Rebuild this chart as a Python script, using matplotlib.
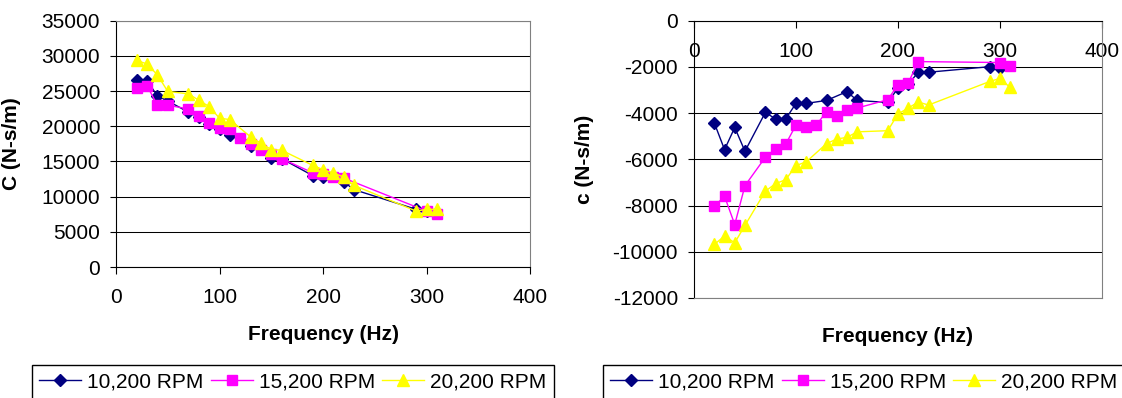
import matplotlib.pyplot as plt

plt.rcParams["font.family"] = ["Liberation Sans", "DejaVu Sans"]
plt.rcParams["axes.unicode_minus"] = False

# Frequency points for each rotor speed
freq_10200 = [20, 30, 40, 50, 70, 80, 90, 100, 110, 130, 150, 160, 190, 200, 210, 220, 230, 290, 300]
freq_15200 = [20, 30, 40, 50, 70, 80, 90, 100, 110, 120, 130, 140, 150, 160, 190, 200, 210, 220, 300, 310]
freq_20200 = [20, 30, 40, 50, 70, 80, 90, 100, 110, 130, 140, 150, 160, 190, 200, 210, 220, 230, 290, 300, 310]

# Direct damping C (N-s/m)
C_10200 = [26600, 26500, 24300, 23600, 22000, 21300, 20300, 19600, 18800, 17200, 15500, 15400,
           13000, 12800, 12900, 12100, 11000, 8200, 8000]
C_15200 = [25500, 25750, 23000, 23000, 22450, 21400, 20450, 19750, 19600, 18350, 17550, 16700,
           16000, 15400, 13400, 13150, 12750, 12650, 7950, 7600]
C_20200 = [29350, 28850, 27300, 24950, 24600, 23700, 22800, 21150, 20950, 18500, 17600, 16700,
           16600, 14450, 13850, 13350, 12800, 11600, 7950, 8200, 8200]

# Cross-coupled damping c (N-s/m)
c_10200 = [-4430, -5580, -4620, -5650, -3970, -4250, -4250, -3580, -3580, -3450, -3070, -3450,
           -3540, -2920, -2750, -2230, -2230, -1990, -2060]
c_15200 = [-8030, -7600, -8820, -7140, -5910, -5540, -5340, -4520, -4580, -4520, -3930, -4130,
           -3860, -3780, -3420, -2780, -2700, -1770, -1810, -1940]
c_20200 = [-9680, -9320, -9610, -8860, -7380, -7050, -6880, -6270, -6110, -5320, -5120, -5050,
           -4810, -4760, -4040, -3780, -3520, -3650, -2630, -2500, -2890]

labels = ["10,200 RPM", "15,200 RPM", "20,200 RPM"]
styles = [("#000080", "D", 6), ("#FF00FF", "s", 7), ("#FFFF00", "^", 8)]

fig = plt.figure(figsize=(11.22, 3.98), dpi=100)
ax1 = fig.add_axes([0.1034, 0.329, 0.369, 0.619])
ax2 = fig.add_axes([0.6185, 0.2513, 0.3636, 0.6967])

series_left = [(freq_10200, C_10200), (freq_15200, C_15200), (freq_20200, C_20200)]
series_right = [(freq_10200, c_10200), (freq_15200, c_15200), (freq_20200, c_20200)]

for ax, series in ((ax1, series_left), (ax2, series_right)):
    for (x, y), (col, mk, ms), lab in zip(series, styles, labels):
        ax.plot(x, y, color=col, lw=1.0, marker=mk, ms=ms, mfc=col, mec=col,
                label=lab, zorder=3, clip_on=False)
    ax.set_xlim(0, 400)
    ax.set_xticks([0, 100, 200, 300, 400])
    ax.yaxis.grid(True, color="black", lw=0.75)
    ax.set_axisbelow(True)
    ax.tick_params(axis="x", direction="out", length=5, width=0.8, pad=10, labelsize=15)
    ax.tick_params(axis="y", direction="out", length=4.5, width=0.8, pad=7, labelsize=15)
    ax.set_xlabel("Frequency (Hz)", fontsize=15, fontweight="bold")
    ax.spines["right"].set_color("#808080")

# Left chart: direct damping
ax1.set_ylim(0, 35000)
ax1.set_yticks(range(0, 35001, 5000))
ax1.spines["top"].set_color("#808080")
ax1.set_ylabel("C (N-s/m)", fontsize=15, fontweight="bold")
ax1.yaxis.set_label_coords(-0.229, 0.5)
ax1.xaxis.set_label_coords(0.5, -0.235)

# Right chart: cross-coupled damping, x axis crosses at zero
ax2.set_ylim(-12000, 0)
ax2.set_yticks(range(-12000, 1, 2000))
ax2.spines["bottom"].set_position(("data", 0))
ax2.spines["top"].set_position(("data", -12000))
ax2.spines["top"].set_color("#808080")
ax2.set_ylabel("c (N-s/m)", fontsize=15, fontweight="bold")
ax2.yaxis.set_label_coords(-0.246, 0.5)
ax2.xaxis.set_label_coords(0.5, -0.105)
ax2.xaxis.label.set_transform(ax2.transAxes)

for ax, x0 in ((ax1, 32 / 1122), (ax2, 603 / 1122)):
    handles, labs = ax.get_legend_handles_labels()
    fig.legend(handles, labs, loc="upper left", bbox_to_anchor=(x0, 1 - 365 / 398),
               ncol=3, fontsize=15, frameon=True, fancybox=False, edgecolor="black",
               framealpha=1, borderpad=0.35, handlelength=2.0, handletextpad=0.3,
               columnspacing=0.35, borderaxespad=0)

fig.savefig("out.png", dpi=100)
